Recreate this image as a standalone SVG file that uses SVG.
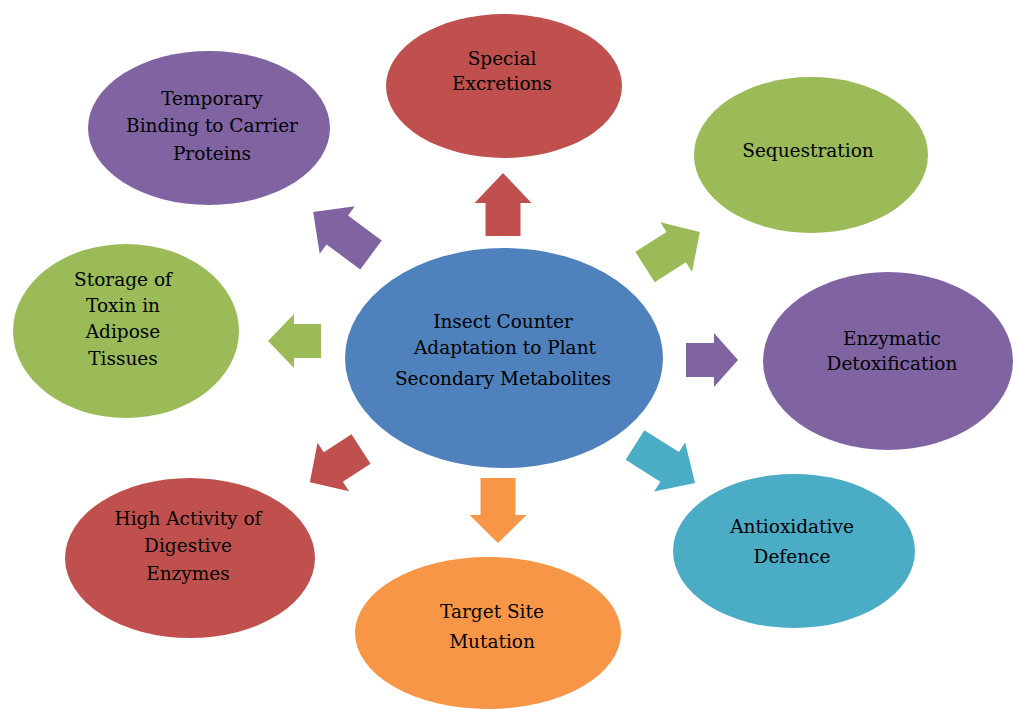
<svg xmlns="http://www.w3.org/2000/svg" width="1013" height="709" viewBox="0 0 1013 709">
<style>
text{font-family:"DejaVu Serif","Liberation Serif",serif;font-size:18.5px;fill:#000;text-anchor:middle}
.red{fill:#C0504D}.purple{fill:#8064A2}.green{fill:#9BBB59}.blue{fill:#4F81BD}.teal{fill:#4BACC6}.orange{fill:#F79646}
</style>
<rect width="1013" height="709" fill="#fff"/>
<g id="connectors">
<path class="red" transform="translate(503,236) rotate(-90)" d="M0,-17.5 L33,-17.5 L33,-28.5 L63,0 L33,28.5 L33,17.5 L0,17.5 Z"/>
<path class="orange" transform="translate(498,478) rotate(90)" d="M0,-17.5 L37,-17.5 L37,-28.5 L65,0 L37,28.5 L37,17.5 L0,17.5 Z"/>
<path class="purple" transform="translate(686,360) rotate(0)" d="M0,-17 L28,-17 L28,-27 L52,0 L28,27 L28,17 L0,17 Z"/>
<path class="green" transform="translate(321,341) rotate(180)" d="M0,-17 L27,-17 L27,-27 L53,0 L27,27 L27,17 L0,17 Z"/>
<path class="purple" transform="translate(371,255) rotate(216.6)" d="M0,-18 L42,-18 L42,-29.5 L72,0 L42,29.5 L42,18 L0,18 Z"/>
<path class="green" transform="translate(645,267) rotate(-32.5)" d="M0,-18 L37,-18 L37,-29.5 L65,0 L37,29.5 L37,18 L0,18 Z"/>
<path class="red" transform="translate(361,449) rotate(147)" d="M0,-17.5 L33,-17.5 L33,-29 L61,0 L33,29 L33,17.5 L0,17.5 Z"/>
<path class="teal" transform="translate(635,445) rotate(32.3)" d="M0,-17.5 L41,-17.5 L41,-29 L71,0 L41,29 L41,17.5 L0,17.5 Z"/>
</g>
<g id="center">
<ellipse class="blue" cx="504" cy="358" rx="159" ry="110"/>
<text x="503" y="328">Insect Counter</text>
<text x="505" y="354">Adaptation to Plant</text>
<text x="503" y="385">Secondary  Metabolites</text>
</g>
<g id="special-excretions">
<ellipse class="red" cx="504" cy="86" rx="118" ry="72"/>
<text x="502" y="65">Special</text>
<text x="502" y="90">Excretions</text>
</g>
<g id="temporary-binding">
<ellipse class="purple" cx="209" cy="128" rx="121" ry="77"/>
<text x="212" y="105">Temporary</text>
<text x="212" y="132">Binding  to Carrier</text>
<text x="212" y="160">Proteins</text>
</g>
<g id="sequestration">
<ellipse class="green" cx="811" cy="155" rx="117" ry="78"/>
<text x="808" y="157">Sequestration</text>
</g>
<g id="storage-toxin">
<ellipse class="green" cx="126" cy="331" rx="113" ry="87"/>
<text x="123" y="286">Storage  of</text>
<text x="123" y="312">Toxin in</text>
<text x="123" y="338">Adipose</text>
<text x="123" y="365">Tissues</text>
</g>
<g id="enzymatic-detoxification">
<ellipse class="purple" cx="888" cy="361" rx="125" ry="89"/>
<text x="892" y="345">Enzymatic</text>
<text x="892" y="370">Detoxification</text>
</g>
<g id="antioxidative-defence">
<ellipse class="teal" cx="794" cy="551" rx="121" ry="77"/>
<text x="792" y="533">Antioxidative</text>
<text x="792" y="563">Defence</text>
</g>
<g id="target-site-mutation">
<ellipse class="orange" cx="488" cy="633" rx="133" ry="76"/>
<text x="492" y="618">Target Site</text>
<text x="492" y="648">Mutation</text>
</g>
<g id="high-activity">
<ellipse class="red" cx="190" cy="558" rx="125" ry="80"/>
<text x="188" y="525">High Activity of</text>
<text x="188" y="552">Digestive</text>
<text x="188" y="580">Enzymes</text>
</g>
</svg>
